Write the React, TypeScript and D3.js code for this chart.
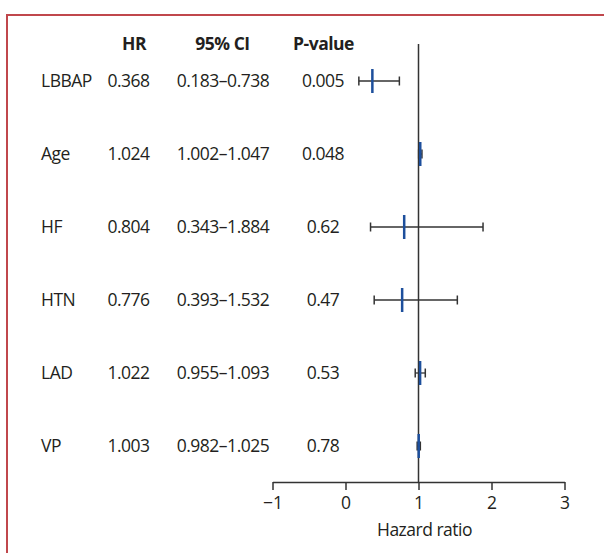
import React, {useEffect, useRef} from 'react'
import * as d3 from 'd3';

const labels = ['LBBAP', 'Age', 'HF', 'HTN', 'LAD', 'VP'];
const hrValues = [0.368, 1.024, 0.804, 0.776, 1.022, 1.003];
const ciLow = [0.183, 1.002, 0.343, 0.393, 0.955, 0.982];
const ciHigh = [0.738, 1.047, 1.884, 1.532, 1.093, 1.025];
const pValues = ['0.005', '0.048', '0.62', '0.47', '0.53', '0.78'];
const headers = ['HR', '95% CI', 'P-value'];
const xTicks = [-1, 0, 1, 2, 3];

export default function App(){
    const svgRef = useRef(null);

    const width = 604;
    const height = 553;
    const font = "'Open Sans', sans-serif";
    const textColor = '#231f20';
    const fs = 17.5;

    useEffect(() => {
        const svg = d3.select(svgRef.current);
        svg.selectAll("*").remove();

        const rows = labels.map((l, i) => ({
            label: l, hr: hrValues[i], lo: ciLow[i], hi: ciHigh[i], p: pValues[i]
        }));

        const xscale = d3.scaleLinear().domain([-1, 3]).range([272.5, 564.5]);
        const yscale = d3.scalePoint().domain(labels).range([81, 446]);
        const fmt = d3.format('.3f');

        // frame
        svg.append('rect')
            .attr('x', 7).attr('y', 15)
            .attr('width', 640).attr('height', 600)
            .attr('fill', 'none')
            .attr('stroke', '#c0474c')
            .attr('stroke-width', 2);

        // column headers
        const headerX = [134, 222.5, 323.5];
        svg.append('g')
            .selectAll('text')
            .data(headers)
            .join('text')
            .attr('x', (d, i) => headerX[i])
            .attr('y', 44)
            .attr('dy', '0.35em')
            .attr('text-anchor', 'middle')
            .attr('font-family', font)
            .attr('font-weight', 700)
            .attr('font-size', fs)
            .attr('letter-spacing', -0.5)
            .attr('fill', textColor)
            .text(d => d);

        // table text
        const table = svg.append('g')
            .attr('font-family', font)
            .attr('font-size', fs)
            .attr('fill', textColor);

        const cols = [
            {x: 41, anchor: 'start', get: d => d.label},
            {x: 128.5, anchor: 'middle', get: d => fmt(d.hr)},
            {x: 223, anchor: 'middle', get: d => `${fmt(d.lo)}–${fmt(d.hi)}`},
            {x: 323, anchor: 'middle', get: d => d.p}
        ];
        cols.forEach(c => {
            table.append('g')
                .selectAll('text')
                .data(rows)
                .join('text')
                .attr('x', c.x)
                .attr('y', d => yscale(d.label))
                .attr('dy', '0.35em')
                .attr('text-anchor', c.anchor)
                .attr('letter-spacing', -0.5)
                .text(c.get);
        });

        // reference line at HR = 1
        svg.append('line')
            .attr('x1', xscale(1)).attr('x2', xscale(1))
            .attr('y1', 44).attr('y2', 482)
            .attr('stroke', '#333')
            .attr('stroke-width', 1.5);

        // whiskers
        const g = svg.append('g');
        g.selectAll('line.ci')
            .data(rows)
            .join('line')
            .attr('class', 'ci')
            .attr('x1', d => xscale(d.lo)).attr('x2', d => xscale(d.hi))
            .attr('y1', d => yscale(d.label)).attr('y2', d => yscale(d.label))
            .attr('stroke', '#333').attr('stroke-width', 1.3);
        ['lo', 'hi'].forEach(k => {
            g.append('g')
                .selectAll('line')
                .data(rows)
                .join('line')
                .attr('x1', d => xscale(d[k])).attr('x2', d => xscale(d[k]))
                .attr('y1', d => yscale(d.label) - 4.5).attr('y2', d => yscale(d.label) + 4.5)
                .attr('stroke', '#333').attr('stroke-width', 1.5);
        });
        g.selectAll('line.hr')
            .data(rows)
            .join('line')
            .attr('class', 'hr')
            .attr('x1', d => xscale(d.hr)).attr('x2', d => xscale(d.hr))
            .attr('y1', d => yscale(d.label) - 12).attr('y2', d => yscale(d.label) + 12)
            .attr('stroke', '#1d4f9c').attr('stroke-width', 2.5);

        // x axis
        const xaxis = d3.axisBottom(xscale)
            .tickValues(xTicks)
            .tickSize(8)
            .tickSizeOuter(0)
            .tickFormat(d => d < 0 ? `−${Math.abs(d)}` : `${d}`);
        const ax = svg.append('g')
            .attr('transform', 'translate(0,482)')
            .call(xaxis);
        ax.select('.domain').attr('stroke', '#333').attr('stroke-width', 1.5);
        ax.selectAll('.tick line').attr('stroke', '#333').attr('stroke-width', 1.5);
        ax.selectAll('.tick text')
            .attr('font-family', font)
            .attr('font-size', fs)
            .attr('fill', textColor)
            .attr('y', 15);

        svg.append('text')
            .attr('x', xscale(1) + 6)
            .attr('y', 536)
            .attr('text-anchor', 'middle')
            .attr('font-family', font)
            .attr('font-size', fs)
            .attr('letter-spacing', -0.5)
            .attr('fill', textColor)
            .text('Hazard ratio');
    }, []);

    return (
        <svg
            ref={svgRef}
            width={width}
            height={height}
            style={{position: 'absolute', left: 0, top: 0, background: 'white'}}
        >
        </svg>
    );
}
